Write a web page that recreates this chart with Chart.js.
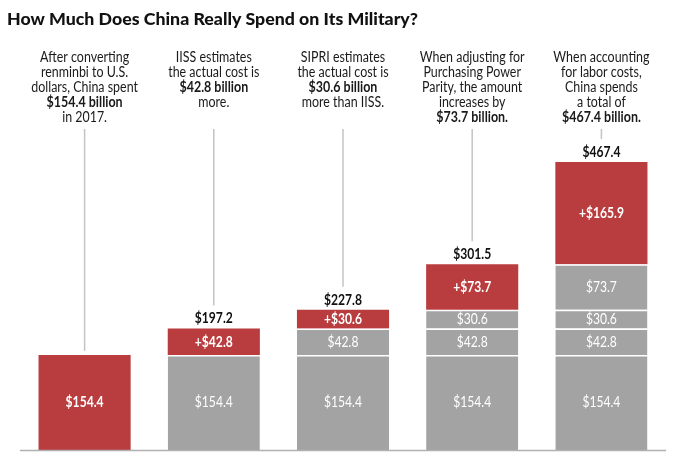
<!DOCTYPE html>
<html>
<head>
<meta charset="utf-8">
<script src="https://cdn.jsdelivr.net/npm/chart.js@4.4.1/dist/chart.umd.min.js"></script>
<style>
  html, body { margin:0; padding:0; background:#fff; }
  #wrap { width:680px; height:459px; }
</style>
</head>
<body>
<div id="wrap"><canvas id="chart" width="680" height="459"></canvas></div>
<script>
/* DATA */
const TITLE = "How Much Does China Really Spend on Its Military?";
const categories = ["Exchange rate", "IISS", "SIPRI", "PPP", "Labor costs"];
const baseSpend = [154.4, 154.4, 154.4, 154.4, 154.4];
const iissAdd   = [null, 42.8, 42.8, 42.8, 42.8];
const sipriAdd  = [null, null, 30.6, 30.6, 30.6];
const pppAdd    = [null, null, null, 73.7, 73.7];
const laborAdd  = [null, null, null, null, 165.9];
const totals    = [154.4, 197.2, 227.8, 301.5, 467.4];

// notes above each bar, *...* = bold line
const notes = [
  ["After converting", "renminbi to U.S.", "dollars, China spent", "*$154.4 billion*", "in 2017."],
  ["IISS estimates", "the actual cost is", "*$42.8 billion*", "more."],
  ["SIPRI estimates", "the actual cost is", "*$30.6 billion*", "more than IISS."],
  ["When adjusting for", "Purchasing Power", "Parity, the amount", "increases by", "*$73.7 billion.*"],
  ["When accounting", "for labor costs,", "China spends", "a total of", "*$467.4 billion.*"]
];

const RED = "#b93c3e";
const GREY = "#a3a3a3";
const FONT = "Lato, 'Open Sans', sans-serif";

function segColor(ctx) {
  return ctx.datasetIndex === ctx.dataIndex ? RED : GREY;
}
function segBorder(ctx) {
  return ctx.datasetIndex < ctx.dataIndex ? { top: 1.5, left: 0, right: 0, bottom: 0 } : 0;
}

/* condensed text: squeeze horizontally */
function txt(c, s, x, y, font, sx, align) {
  c.save();
  c.font = font;
  c.textAlign = align || "center";
  c.textBaseline = "middle";
  c.translate(x, y);
  c.scale(sx, 1);
  c.fillText(s, 0, 0);
  c.restore();
}
function fitScale(c, font, s, target) {
  c.save(); c.font = font;
  const w = c.measureText(s).width;
  c.restore();
  return target / w;
}

const deco = {
  id: "deco",
  afterDatasetsDraw(chart) {
    const c = chart.ctx;
    const area = chart.chartArea;
    const y0 = chart.scales.y.getPixelForValue(0);

    // title
    const fTitle = "900 17.5px " + FONT;
    c.fillStyle = "#111";
    c.save();
    c.font = fTitle; c.textAlign = "left"; c.textBaseline = "alphabetic";
    const tsx = fitScale(c, fTitle, TITLE, 411);
    c.translate(7, 25); c.scale(tsx, 1);
    c.fillText(TITLE, 0, 0);
    c.restore();

    // notes
    const fNote = "400 14.5px " + FONT;
    const fNoteB = "700 14.5px " + FONT;
    const nsx = fitScale(c, fNote, "After converting", 89);
    const bsx = fitScale(c, fNoteB, "$154.4 billion", 76);
    const metaTop = chart.getDatasetMeta(0);
    notes.forEach((lines, j) => {
      const x = metaTop.data[j].x;
      lines.forEach((ln, k) => {
        const bold = ln.startsWith("*");
        c.fillStyle = "#1a1a1a";
        txt(c, ln.replace(/\*/g, ""), x, 57 + k * 15, bold ? fNoteB : fNote, bold ? bsx : nsx);
      });
    });

    // segment labels
    const fLab = "400 15px " + FONT;
    const fLabB = "700 15px " + FONT;
    const lsx = fitScale(c, fLabB, "$154.4", 38);
    chart.data.datasets.forEach((ds, i) => {
      const meta = chart.getDatasetMeta(i);
      ds.data.forEach((v, j) => {
        if (v == null) return;
        const el = meta.data[j];
        const mid = (el.y + el.base) / 2;
        const own = i === j;
        const s = (own && j > 0 ? "+$" : "$") + v.toFixed(1);
        c.fillStyle = "#fff";
        txt(c, s, el.x, mid, own ? fLabB : fLab, lsx);
      });
    });

    // totals + leader lines
    totals.forEach((t, j) => {
      const el = chart.getDatasetMeta(j).data[j];
      const top = el.y;
      let lineEnd = top - 4;
      if (j > 0) {
        const ly = top - 10;
        c.fillStyle = "#111";
        txt(c, "$" + t.toFixed(1), el.x, ly, fLabB, lsx);
        lineEnd = ly - 13;
      }
      c.save();
      c.strokeStyle = "#c4c4c4";
      c.lineWidth = 1.5;
      c.beginPath();
      c.moveTo(el.x, 129);
      c.lineTo(el.x, lineEnd);
      c.stroke();
      c.restore();
    });

    // baseline
    c.save();
    c.strokeStyle = "#b0b0b0";
    c.lineWidth = 1.5;
    c.beginPath();
    c.moveTo(area.left, y0 + 0.5);
    c.lineTo(area.right, y0 + 0.5);
    c.stroke();
    c.restore();
  }
};

function ds(label, data) {
  return {
    label, data,
    backgroundColor: segColor,
    borderColor: "#fff",
    borderWidth: segBorder,
    borderSkipped: false,
    barPercentage: 0.713,
    categoryPercentage: 1
  };
}

new Chart(document.getElementById("chart"), {
  type: "bar",
  data: {
    labels: categories,
    datasets: [
      ds("Base", baseSpend),
      ds("IISS", iissAdd),
      ds("SIPRI", sipriAdd),
      ds("PPP", pppAdd),
      ds("Labor", laborAdd)
    ]
  },
  options: {
    responsive: false,
    devicePixelRatio: 1,
    animation: false,
    events: [],
    layout: { padding: { left: 20, right: 14, top: 142, bottom: 9 } },
    plugins: { legend: { display: false }, tooltip: { enabled: false }, title: { display: false } },
    scales: {
      x: { display: false, stacked: true },
      y: { display: false, stacked: true, min: 0, max: 500 }
    }
  },
  plugins: [deco]
});
</script>
</body>
</html>
